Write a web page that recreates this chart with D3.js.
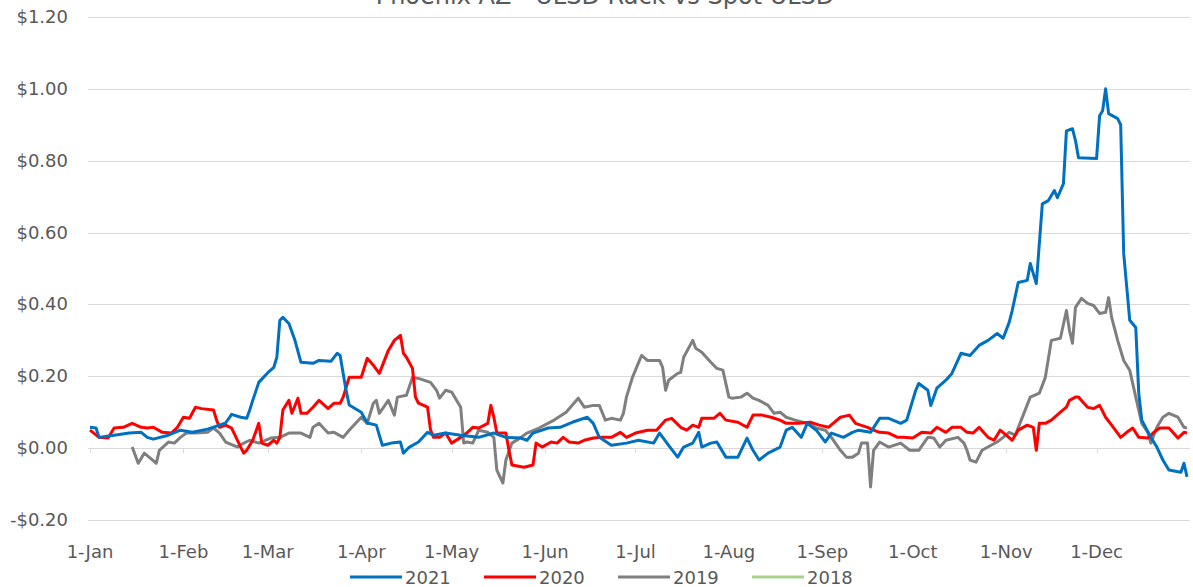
<!DOCTYPE html>
<html>
<head>
<meta charset="utf-8">
<script src="https://cdn.jsdelivr.net/npm/d3@7"></script>
<style>
  body { margin: 0; background: #fff; }
  text { font-family: "DejaVu Sans", sans-serif; fill: #595959; }
</style>
</head>
<body>
<svg></svg>
<script>
const width = 1193;
const height = 587;

const title = "Phoenix AZ - ULSD Rack vs Spot ULSD";
const yTicks = [-0.2, 0, 0.2, 0.4, 0.6, 0.8, 1.0, 1.2];
const monthLabels = ["1-Jan", "1-Feb", "1-Mar", "1-Apr", "1-May", "1-Jun",
                     "1-Jul", "1-Aug", "1-Sep", "1-Oct", "1-Nov", "1-Dec"];
const seriesNames = ["2021", "2020", "2019", "2018"];
const seriesColors = ["#0070C0", "#FF0000", "#7F7F7F", "#A9D18E"];

// [day of year (0 = 1-Jan), rack minus spot in $/gal]
const data2021 = [
  [0,0.058],[2,0.056],[3,0.03],[8,0.036],[13,0.042],[17,0.044],[19,0.03],[21,0.025],[26,0.036],
  [30,0.05],[34,0.044],[39,0.053],[43,0.064],[45,0.07],[47,0.094],[50,0.086],[52,0.083],[53,0.106],
  [54,0.133],[56,0.183],[59,0.21],[61,0.225],[62,0.253],[63,0.356],[64,0.364],[66,0.347],[68,0.30],
  [70,0.239],[74,0.236],[76,0.244],[80,0.242],[82,0.264],[83,0.258],[84,0.208],[85,0.16],[86,0.12],
  [90,0.10],[92,0.07],[95,0.064],[97,0.008],[100,0.014],[103,0.017],[104,-0.014],[106,0.003],
  [109,0.017],[112,0.044],[114,0.036],[118,0.042],[123,0.036],[129,0.03],[134,0.042],[138,0.03],
  [143,0.028],[145,0.022],[147,0.042],[152,0.056],[156,0.058],[160,0.072],[165,0.086],[167,0.069],
  [169,0.03],[173,0.008],[178,0.014],[182,0.022],[187,0.014],[189,0.042],[192,0.008],[195,-0.025],
  [197,0.003],[200,0.014],[202,0.044],[203,0.003],[206,0.014],[208,0.017],[211,-0.025],[215,-0.025],
  [218,0.028],[220,-0.006],[222,-0.033],[225,-0.014],[229,0.003],[231,0.05],[233,0.058],[236,0.03],
  [238,0.069],[241,0.05],[244,0.017],[246,0.042],[250,0.03],[253,0.044],[255,0.05],[259,0.044],
  [262,0.083],[265,0.083],[269,0.069],[271,0.078],[274,0.161],[275,0.18],[278,0.161],[279,0.119],
  [281,0.167],[284,0.189],[286,0.208],[289,0.264],[292,0.258],[295,0.286],[298,0.30],[301,0.319],
  [303,0.306],[305,0.35],[306,0.383],[308,0.461],[311,0.467],[312,0.514],[314,0.458],[316,0.68],
  [318,0.689],[320,0.717],[321,0.697],[323,0.736],[324,0.883],[326,0.889],[327,0.856],[328,0.808],
  [334,0.806],[335,0.925],[336,0.939],[337,1.0],[338,0.931],[341,0.917],[342,0.90],[343,0.542],
  [345,0.356],[347,0.336],[348,0.153],[349,0.078],[352,0.03],[354,0.003],[356,-0.033],[358,-0.061],
  [362,-0.067],[363,-0.042],[364,-0.08]
];

const data2020 = [
  [0,0.05],[3,0.03],[6,0.028],[8,0.056],[11,0.058],[14,0.069],[17,0.058],[19,0.056],[21,0.058],
  [24,0.044],[27,0.042],[29,0.058],[31,0.086],[33,0.083],[35,0.114],[37,0.11],[41,0.106],[42,0.078],
  [43,0.058],[45,0.064],[47,0.056],[50,0.003],[51,-0.014],[52,-0.006],[54,0.022],[56,0.069],
  [57,0.014],[59,0.008],[61,0.022],[62,0.014],[63,0.03],[64,0.106],[66,0.133],[67,0.097],[69,0.139],
  [70,0.097],[72,0.097],[74,0.114],[76,0.133],[79,0.11],[81,0.125],[83,0.125],[84,0.142],[85,0.169],
  [86,0.197],[90,0.197],[92,0.25],[94,0.231],[96,0.208],[99,0.272],[101,0.30],[103,0.314],[104,0.264],
  [105,0.253],[107,0.222],[108,0.142],[109,0.125],[112,0.114],[113,0.05],[114,0.03],[116,0.03],
  [118,0.042],[120,0.014],[123,0.03],[125,0.042],[127,0.058],[129,0.056],[132,0.069],[133,0.119],
  [134,0.086],[135,0.042],[138,0.042],[139,-0.006],[140,-0.047],[144,-0.053],[147,-0.047],[148,0.014],
  [150,0.003],[153,0.017],[155,0.014],[157,0.03],[159,0.017],[162,0.014],[164,0.022],[167,0.028],
  [170,0.03],[173,0.03],[176,0.044],[178,0.03],[181,0.042],[185,0.05],[188,0.05],[191,0.078],
  [193,0.083],[196,0.058],[198,0.05],[200,0.064],[202,0.058],[203,0.083],[207,0.083],[209,0.097],
  [211,0.078],[215,0.072],[218,0.058],[220,0.092],[223,0.092],[226,0.086],[229,0.078],[231,0.069],
  [235,0.069],[239,0.072],[242,0.064],[245,0.058],[249,0.086],[252,0.092],[254,0.069],[258,0.058],
  [260,0.05],[262,0.044],[265,0.042],[268,0.03],[270,0.03],[273,0.028],[276,0.044],[279,0.042],
  [281,0.058],[284,0.044],[286,0.058],[289,0.058],[291,0.044],[293,0.042],[295,0.058],[298,0.03],
  [300,0.022],[302,0.05],[304,0.036],[306,0.022],[308,0.05],[311,0.064],[313,0.058],[314,-0.006],
  [315,0.069],[317,0.069],[319,0.078],[322,0.10],[324,0.114],[325,0.133],[327,0.142],[328,0.142],
  [331,0.114],[333,0.11],[335,0.119],[337,0.086],[339,0.064],[342,0.03],[344,0.044],[346,0.056],
  [348,0.03],[351,0.028],[353,0.044],[355,0.056],[358,0.056],[361,0.028],[363,0.044],[364,0.042]
];

const data2019 = [
  [14,0.003],[16,-0.042],[18,-0.014],[20,-0.028],[22,-0.042],[23,-0.006],[26,0.017],[28,0.014],
  [30,0.03],[32,0.042],[35,0.042],[39,0.044],[41,0.056],[43,0.042],[45,0.017],[49,0.003],[51,0.014],
  [53,0.022],[56,0.014],[60,0.028],[63,0.03],[66,0.042],[70,0.042],[73,0.03],[74,0.058],[76,0.069],
  [79,0.042],[81,0.044],[84,0.03],[86,0.05],[90,0.086],[92,0.069],[94,0.125],[95,0.133],[96,0.097],
  [99,0.133],[101,0.092],[102,0.142],[105,0.147],[107,0.197],[109,0.194],[113,0.183],[115,0.161],
  [116,0.139],[118,0.161],[120,0.156],[123,0.114],[124,0.014],[125,0.017],[127,0.014],[129,0.05],
  [132,0.044],[134,0.03],[135,-0.061],[137,-0.097],[138,-0.033],[140,0.014],[143,0.03],[145,0.042],
  [149,0.056],[154,0.078],[158,0.10],[162,0.139],[164,0.114],[167,0.119],[169,0.119],[171,0.078],
  [173,0.083],[176,0.078],[177,0.097],[178,0.142],[180,0.197],[181,0.217],[183,0.258],[185,0.244],
  [189,0.244],[190,0.225],[191,0.161],[192,0.189],[195,0.208],[196,0.211],[197,0.253],[200,0.30],
  [201,0.278],[203,0.267],[206,0.239],[208,0.222],[210,0.217],[212,0.142],[213,0.139],[216,0.142],
  [218,0.153],[220,0.139],[222,0.133],[225,0.119],[227,0.097],[229,0.10],[231,0.086],[234,0.078],
  [238,0.069],[241,0.056],[244,0.05],[246,0.03],[249,-0.006],[251,-0.025],[253,-0.025],[255,-0.014],
  [256,0.014],[258,0.014],[259,-0.108],[260,-0.006],[262,0.017],[265,0.003],[269,0.014],[272,-0.006],
  [275,-0.006],[278,0.03],[280,0.028],[282,0.003],[284,0.022],[288,0.03],[290,0.014],[291,-0.006],
  [292,-0.033],[294,-0.039],[296,-0.006],[299,0.008],[301,0.017],[303,0.03],[305,0.044],[307,0.036],
  [309,0.078],[312,0.142],[315,0.153],[317,0.197],[319,0.30],[322,0.306],[324,0.383],[325,0.328],
  [326,0.292],[327,0.392],[329,0.417],[331,0.403],[333,0.397],[335,0.375],[337,0.378],[338,0.419],
  [339,0.364],[341,0.30],[343,0.244],[345,0.217],[347,0.142],[349,0.069],[351,0.044],[352,0.014],
  [354,0.058],[356,0.086],[358,0.097],[361,0.086],[363,0.058],[364,0.056]
];

const data2018 = [];

const seriesData = [data2021, data2020, data2019, data2018];

const svg = d3.select("svg")
  .attr("width", width)
  .attr("height", height);

const yearStart = new Date(2021, 0, 1);
const toDate = day => d3.timeDay.offset(yearStart, day);

const x = d3.scaleTime()
  .domain([yearStart, new Date(2022, 0, 1)])
  .range([90, 1190]);

const y = d3.scaleLinear()
  .domain([-0.2, 1.2])
  .range([520, 17]);

const fmt = v => (v < 0 ? "-$" : "$") + Math.abs(v).toFixed(2);

// gridlines
svg.append("g")
  .selectAll("line")
  .data(yTicks)
  .enter()
  .append("line")
  .attr("x1", 88)
  .attr("x2", 1190)
  .attr("y1", d => Math.round(y(d)) + 0.5)
  .attr("y2", d => Math.round(y(d)) + 0.5)
  .attr("stroke", "#d9d9d9")
  .attr("stroke-width", 1);

// y labels
svg.append("g")
  .selectAll("text")
  .data(yTicks)
  .enter()
  .append("text")
  .attr("x", 68)
  .attr("y", d => y(d) + 6)
  .attr("text-anchor", "end")
  .attr("font-size", "18px")
  .text(fmt);

// month ticks on the zero line
const months = d3.timeMonth.range(yearStart, new Date(2022, 0, 1));
svg.append("g")
  .selectAll("line")
  .data(months)
  .enter()
  .append("line")
  .attr("x1", d => Math.round(x(d)) + 0.5)
  .attr("x2", d => Math.round(x(d)) + 0.5)
  .attr("y1", y(0))
  .attr("y2", y(0) + 5)
  .attr("stroke", "#d9d9d9");

// month labels
svg.append("g")
  .selectAll("text")
  .data(months)
  .enter()
  .append("text")
  .attr("x", d => x(d))
  .attr("y", 558)
  .attr("text-anchor", "middle")
  .attr("font-size", "18px")
  .text((d, i) => monthLabels[i]);

// series
const line = d3.line()
  .x(d => x(toDate(d[0])))
  .y(d => y(d[1]));

const drawOrder = [3, 2, 1, 0];
svg.append("g")
  .selectAll("path")
  .data(drawOrder)
  .enter()
  .append("path")
  .attr("fill", "none")
  .attr("stroke", i => seriesColors[i])
  .attr("stroke-width", 3)
  .attr("stroke-linejoin", "round")
  .attr("d", i => seriesData[i].length ? line(seriesData[i]) : null);

// title (cut off at the top edge)
svg.append("text")
  .attr("x", 605)
  .attr("y", 4)
  .attr("text-anchor", "middle")
  .attr("font-size", "24px")
  .text(title);

// legend
const legend = svg.append("g")
  .selectAll("g")
  .data(seriesNames)
  .enter()
  .append("g")
  .attr("transform", (d, i) => `translate(${350 + i * 134},577)`);

legend.append("line")
  .attr("x1", 0)
  .attr("x2", 52)
  .attr("stroke", (d, i) => seriesColors[i])
  .attr("stroke-width", 3);

legend.append("text")
  .attr("x", 55)
  .attr("y", 7)
  .attr("font-size", "18px")
  .text(d => d);
</script>
</body>
</html>
